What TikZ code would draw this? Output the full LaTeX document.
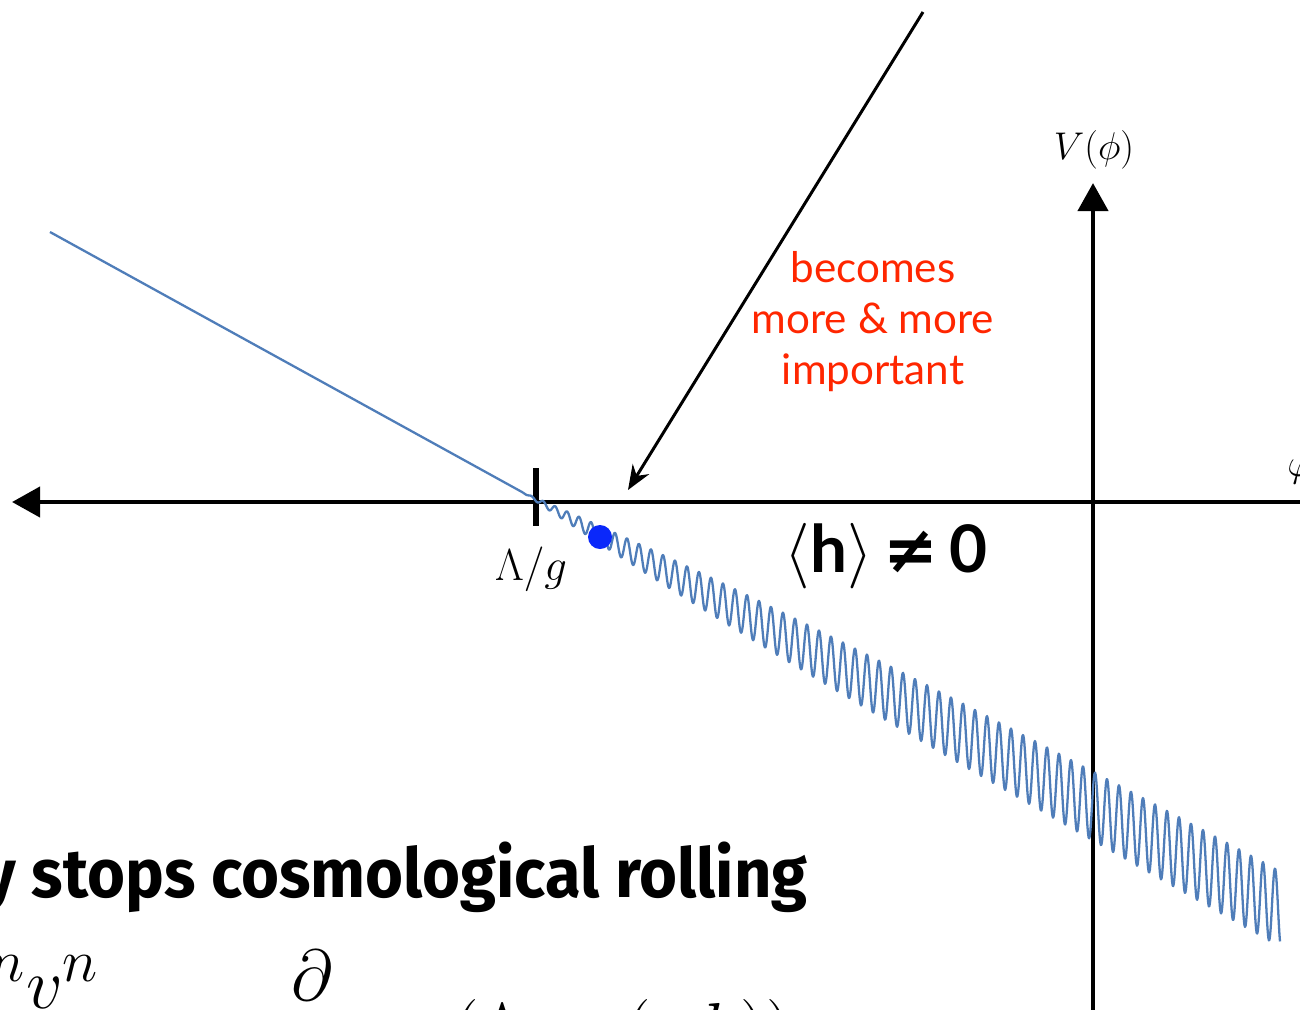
\documentclass[tikz,border=0pt]{standalone}
\usepackage{amsmath}
\usepackage{fontspec}
\usepackage{tikz}
\usetikzlibrary{arrows.meta, positioning}
\newfontfamily\gillfont{Lato}
\newfontfamily\comicfont{Fira Sans}
\newfontfamily\symbfont{DejaVu Sans}
\definecolor{curveblue}{RGB}{79,125,185}
\definecolor{notered}{RGB}{255,38,0}
\definecolor{ballblue}{RGB}{10,40,250}

\begin{document}
\begin{tikzpicture}[
      x=0.02cm, y=-0.02cm,
      axis/.style={line width=2.8pt, -{Triangle[length=16pt, width=17pt]}},
      tick/.style={line width=3.4pt},
      pointer/.style={-{Stealth[length=14pt, width=11pt]}, line width=1.7pt},
      potential/.style={draw=curveblue, line width=1.3pt, line join=round},
      ball/.style={circle, fill=ballblue, minimum size=0.48cm, inner sep=0pt},
      note/.style={text=notered, font=\gillfont\fontsize{24}{29}\selectfont, align=center},
      vev/.style={font=\gillfont\bfseries\Huge, scale=1.5},
      axislabel/.style={font=\huge, scale=1.06, inner sep=0pt},
      slide/.style={font=\comicfont\bfseries\fontsize{39}{44}\selectfont, inner sep=0pt, xscale=0.95},
      slidemath/.style={font=\Huge, scale=1.65, inner sep=0pt}
  ]
      \path[fill=white, use as bounding box] (0,0) rectangle (1300,1009);
      \clip (0,0) rectangle (1300,1009);

      % Axes
      \coordinate (xright) at (1315,502);
      \coordinate (xleft) at (12,502);
      \coordinate (ybottom) at (1093,1015);
      \coordinate (ytop) at (1093,183);
      \draw[axis] (xright) -- (xleft);
      \draw[axis] (ybottom) -- (ytop);
      \node[axislabel] (vlabel) at (1094,150) {$V(\phi)$};
      \node[axislabel, anchor=base west] (philabel) at (1287,476) {$\varphi$};

      % Cutoff tick
      \coordinate (ticktop) at (536,468);
      \coordinate (tickbot) at (536,526);
      \draw[tick] (ticktop) -- (tickbot);
      \node[axislabel, scale=1.16] (cutoff) at (531,569) {$\Lambda/g$};

      % Potential: linear slope, then growing wiggles
      \draw[potential] (50,232) -- (522,492)
          plot[domain=522:1280, samples=1300]
          (\x, {492+0.55*(\x-522)+42*(1-exp(-(\x-522)/330))*sin(30*mod(\x-522,12))});
      \node[ball] (ball) at (600,537) {};

      % Pointer and note
      \coordinate (ptrtail) at (923,12);
      \coordinate (ptrtip) at (628,490);
      \draw[pointer] (ptrtail) -- (ptrtip);
      \node[note] (grows) at (873,322) {becomes\\more \& more\\important};
      \node[vev] (hvev) at (886,556) {$\langle$h$\rangle$\,{\symbfont\bfseries ≠}\,0};

      % Slide text below
      \node[slide, anchor=base east] (rolling) at (808,897) {y stops cosmological rolling};
      \node[slidemath, anchor=base east] (coupling) at (100,1008) {$g^{n}v^{n}$};
      \node[slidemath, anchor=base] (deriv) at (312,1049) {$\dfrac{\partial}{\partial h}$};
      \node[slidemath, anchor=base west] (expr) at (453,1053) {$(\Lambda\cos(v\,h))$};

  \end{tikzpicture}
\end{document}
